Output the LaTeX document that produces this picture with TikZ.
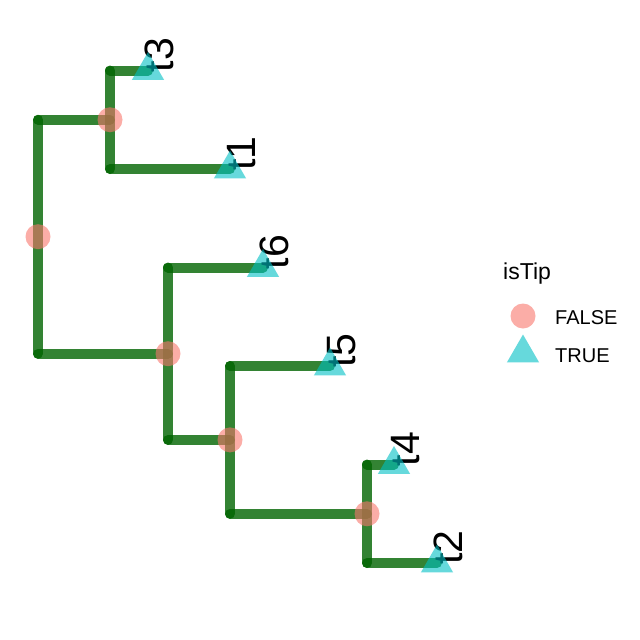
\documentclass[tikz,border=0pt]{standalone}
\usepackage{fontspec}
\setmainfont{Liberation Sans}
\usetikzlibrary{shapes.geometric}
\definecolor{branchgreen}{RGB}{0,100,0}
\definecolor{falsepink}{HTML}{F8766D}
\definecolor{truecyan}{HTML}{00BFC4}
\begin{document}
\begin{tikzpicture}[x=1pt, y=-1pt,
    branch/.style={draw=branchgreen, line width=10pt, line cap=round, draw opacity=0.8},
    innerpt/.style={circle, fill=falsepink, fill opacity=0.6, minimum size=25pt, inner sep=0pt},
    tippt/.style={regular polygon, regular polygon sides=3, fill=truecyan, fill opacity=0.6, minimum size=37pt, inner sep=0pt},
    tiplab/.style={rotate=90, anchor=base west, inner sep=0pt, font=\fontsize{41}{41}\selectfont},
    legtext/.style={anchor=base west, inner sep=0pt, font=\fontsize{20}{20}\selectfont}]
    \useasboundingbox (0,0) rectangle (640,640);

    % tree layout
    \coordinate (t3) at (148,70.5);
    \coordinate (t1) at (230,169);
    \coordinate (t6) at (263,267.5);
    \coordinate (t5) at (330,366);
    \coordinate (t4) at (394,464.5);
    \coordinate (t2) at (437,563);
    \coordinate (d) at (367,513.75);
    \coordinate (c) at (230,439.9);
    \coordinate (b) at (168,353.7);
    \coordinate (a) at (110,119.75);
    \coordinate (r) at (38,236.7);

    % branches
    \foreach \p/\u/\l in {r/a/b, a/t3/t1, b/t6/c, c/t5/d, d/t4/t2}
        \draw[branch] (\p |- \u) -- (\p |- \l);
    \foreach \p/\c in {r/a, r/b, a/t3, a/t1, b/t6, b/c, c/t5, c/d, d/t4, d/t2}
        \draw[branch] (\p |- \c) -- (\c);

    % tip labels
    \foreach \t in {t3, t1, t6, t5, t4, t2}
        \node[tiplab] (lab-\t) at ([xshift=25pt, yshift=-2pt]\t) {\t};

    % node points
    \foreach \n in {r, a, b, c, d}
        \node[innerpt] (pt-\n) at (\n) {};
    \foreach \t in {t3, t1, t6, t5, t4, t2}
        \node[tippt] (pt-\t) at (\t) {};

    % legend
    \node[legtext, font=\fontsize{23}{23}\selectfont] (legtitle) at (503,279) {isTip};
    \node[innerpt] (legfalse) at (523,316) {};
    \node[legtext] (legfalselab) at (555,324) {FALSE};
    \node[tippt] (legtrue) at (523,353) {};
    \node[legtext] (legtruelab) at (555,362) {TRUE};
\end{tikzpicture}
\end{document}
